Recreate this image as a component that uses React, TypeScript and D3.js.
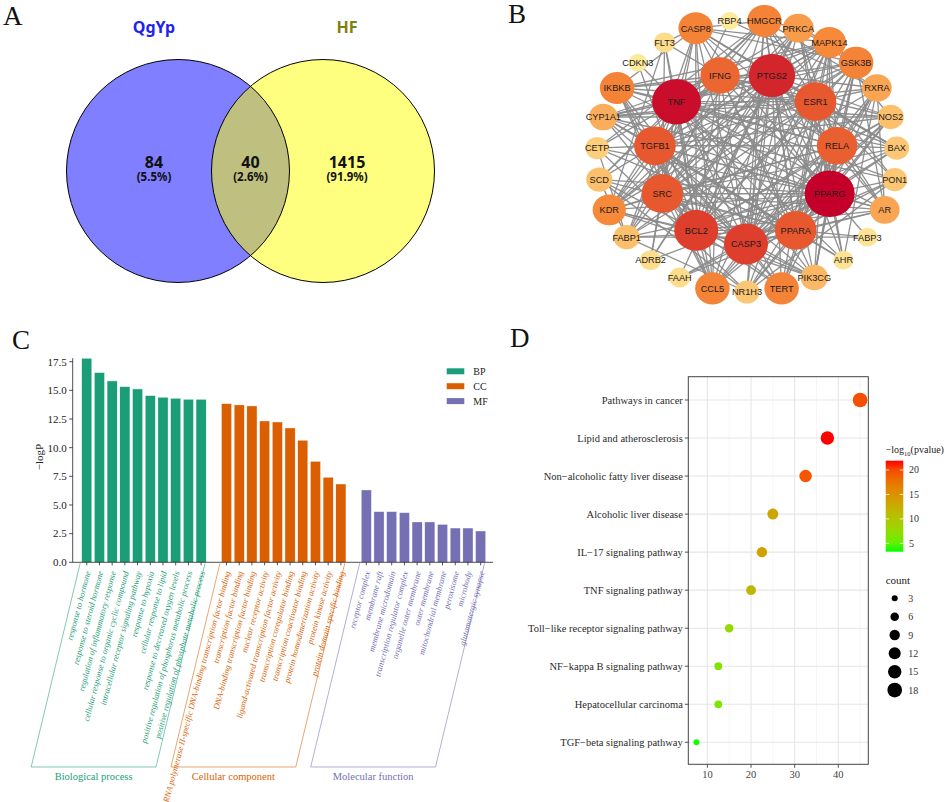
import React from "react";
import * as d3 from "d3";

const W = 948;
const H = 802;
const SERIF = "'Liberation Serif', 'Times New Roman', serif";
const SANS = "'Liberation Sans', Arial, sans-serif";
const NOTO = "'Noto Sans', 'DejaVu Sans', sans-serif";

// ---------- A: Venn
const vennSets = ["QgYp", "HF"];
const vennCounts = [84, 40, 1415];
const vennPercents = ["(5.5%)", "(2.6%)", "(91.9%)"];

// ---------- B: PPI network
const outerRing = [
  "HMGCR", "PRKCA", "MAPK14", "GSK3B", "RXRA", "NOS2", "BAX", "PON1", "AR",
  "FABP3", "AHR", "PIK3CG", "TERT", "NR1H3", "CCL5", "FAAH", "ADRB2", "FABP1",
  "KDR", "SCD", "CETP", "CYP1A1", "IKBKB", "CDKN3", "FLT3", "CASP8", "RBP4",
];
const outerDegree = [21, 18, 20, 21, 17, 14, 13, 13, 17, 9, 9, 15, 21, 13, 21, 10, 10, 14, 20, 14, 12, 16, 21, 8, 10, 21, 8];
const innerRing = ["CASP3", "PPARA", "PPARG", "RELA", "ESR1", "PTGS2", "IFNG", "TNF", "TGFB1", "SRC", "BCL2"];
const innerDegree = [29, 27, 34, 26, 27, 31, 25, 33, 27, 27, 29];
const edgeList = [
  "PPARG: TNF PTGS2 ESR1 RELA PPARA CASP3 BCL2 SRC TGFB1 IFNG CASP8 HMGCR PRKCA MAPK14 GSK3B RXRA NOS2 BAX PON1 AR FABP3 AHR PIK3CG TERT NR1H3 CCL5 FAAH FABP1 KDR SCD CETP CYP1A1 IKBKB ADRB2",
  "TNF: PTGS2 ESR1 RELA PPARA CASP3 BCL2 SRC TGFB1 IFNG CASP8 HMGCR PRKCA MAPK14 GSK3B NOS2 BAX PON1 AR AHR PIK3CG TERT CCL5 FABP1 KDR SCD CETP CYP1A1 IKBKB FLT3 CDKN3 ADRB2",
  "PTGS2: ESR1 RELA PPARA CASP3 BCL2 SRC TGFB1 IFNG CASP8 HMGCR PRKCA MAPK14 GSK3B RXRA NOS2 BAX AR AHR PIK3CG TERT NR1H3 CCL5 FAAH KDR CYP1A1 IKBKB ADRB2",
  "BCL2: ESR1 RELA PPARA CASP3 SRC TGFB1 IFNG CASP8 HMGCR PRKCA MAPK14 GSK3B NOS2 BAX AR PIK3CG TERT CCL5 KDR SCD CYP1A1 IKBKB FLT3 CDKN3",
  "CASP3: ESR1 RELA PPARA SRC TGFB1 IFNG CASP8 HMGCR PRKCA MAPK14 GSK3B RXRA NOS2 BAX PON1 AR PIK3CG TERT CCL5 KDR CYP1A1 IKBKB FAAH",
  "SRC: ESR1 RELA PPARA TGFB1 IFNG CASP8 PRKCA MAPK14 GSK3B BAX AR PIK3CG TERT CCL5 KDR IKBKB FLT3 ADRB2 FABP1",
  "TGFB1: ESR1 RELA PPARA IFNG CASP8 HMGCR MAPK14 GSK3B NOS2 AR PIK3CG TERT CCL5 KDR SCD CETP CYP1A1 IKBKB",
  "ESR1: RELA PPARA IFNG CASP8 HMGCR PRKCA MAPK14 GSK3B RXRA BAX PON1 AR AHR TERT NR1H3 CYP1A1 IKBKB FABP1",
  "PPARA: RELA IFNG HMGCR MAPK14 GSK3B RXRA NOS2 PON1 AR FABP3 AHR NR1H3 FAAH FABP1 SCD CETP CYP1A1",
  "RELA: IFNG CASP8 PRKCA MAPK14 GSK3B RXRA NOS2 BAX AR PIK3CG TERT CCL5 KDR IKBKB",
  "IFNG: CASP8 MAPK14 NOS2 BAX PIK3CG CCL5 KDR IKBKB CYP1A1 FLT3",
  "CASP8: HMGCR MAPK14 GSK3B BAX IKBKB CCL5 FLT3",
  "HMGCR: PRKCA RXRA PON1 NR1H3 CETP SCD FABP1",
  "MAPK14: PRKCA GSK3B IKBKB PIK3CG CCL5 KDR NOS2",
  "GSK3B: PRKCA PIK3CG TERT KDR AR",
  "NR1H3: RXRA CETP SCD PON1 FABP1",
  "KDR: PIK3CG FLT3 PRKCA",
  "RXRA: AR CYP1A1 AHR FABP1 RBP4",
  "CYP1A1: AHR PON1 NOS2",
  "FABP1: SCD CETP FABP3 RBP4",
  "CCL5: IKBKB NOS2",
  "ADRB2: PRKCA",
];

// ---------- C: GO enrichment
const bpTerms = [
  "response to hormone", "response to steroid hormone", "regulation of inflammatory response",
  "cellular response to organic cyclic compound", "intracellular receptor signaling pathway",
  "response to hypoxia", "cellular response to lipid", "response to decreased oxygen levels",
  "positive regulation of phosphorus metabolic process", "positive regulation of phosphate metabolic process",
];
const bpValues = [17.8, 16.55, 15.82, 15.32, 15.12, 14.54, 14.4, 14.31, 14.22, 14.22];
const ccTerms = [
  "RNA polymerase II-specific DNA-binding transcription factor binding", "transcription factor binding",
  "DNA-binding transcription factor binding", "nuclear receptor activity",
  "ligand-activated transcription factor activity", "transcription coregulator binding",
  "transcription coactivator binding", "protein homodimerization activity",
  "protein kinase activity", "protein domain specific binding",
];
const ccValues = [13.84, 13.73, 13.64, 12.33, 12.24, 11.72, 10.65, 8.81, 7.42, 6.83];
const mfTerms = [
  "receptor complex", "membrane raft", "membrane microdomain", "transcription regulator complex",
  "organelle outer membrane", "outer membrane", "mitochondrial membrane", "peroxisome",
  "microbody", "glutamatergic synapse",
];
const mfValues = [6.31, 4.42, 4.42, 4.33, 3.52, 3.52, 3.31, 2.99, 2.99, 2.73];
const goGroups = ["BP", "CC", "MF"];
const goGroupNames = ["Biological process", "Cellular component", "Molecular function"];
const goColors = ["#1b9e77", "#d95f02", "#7570b3"];
const goTicks = [0, 2.5, 5, 7.5, 10, 12.5, 15, 17.5];

// ---------- D: KEGG dot plot
const pathways = [
  "Pathways in cancer", "Lipid and atherosclerosis", "Non\u2212alcoholic fatty liver disease",
  "Alcoholic liver disease", "IL\u221217 signaling pathway", "TNF signaling pathway",
  "Toll\u2212like receptor signaling pathway", "NF\u2212kappa B signaling pathway",
  "Hepatocellular carcinoma", "TGF\u2212beta signaling pathway",
];
const pathwayRatio = [45, 37.5, 32.5, 25, 22.5, 20, 15, 12.5, 12.5, 7.5];
const pathwayCount = [18, 15, 13, 10, 9, 8, 6, 5, 5, 3];
const pathwayLogP = [19.8, 21.9, 19.5, 13.2, 13.6, 11.5, 7.8, 6.5, 6.2, 3.4];
const xTicksD = [10, 20, 30, 40];
const colorTicksD = [5, 10, 15, 20];
const sizeTicksD = [3, 6, 9, 12, 15, 18];

const PanelLetter = ({ x, y, t }: { x: number; y: number; t: string }) => (
  <text x={x} y={y} fontFamily={SERIF} fontSize={27} fill="#111">{t}</text>
);

export default function App() {
  // ---- A layout
  const vr = 111.5, vcy = 171, vcxL = 178, vcxR = 323;
  const vLabelX = [vcxL - 24, (vcxL + vcxR) / 2, vcxR + 24];

  // ---- B layout
  const ocx = 747, ocy = 156, orx = 150, ory = 136;
  const icx = 746, icy = 158, irx = 92, iry = 86;
  const nodes = new Map<string, { x: number; y: number; deg: number }>();
  outerRing.forEach((n, k) => {
    const a = ((180 / 27 + (k * 360) / 27) * Math.PI) / 180;
    nodes.set(n, { x: ocx + orx * Math.sin(a), y: ocy - ory * Math.cos(a), deg: outerDegree[k] });
  });
  innerRing.forEach((n, k) => {
    const a = ((180 - (k * 360) / 11) * Math.PI) / 180;
    nodes.set(n, { x: icx + irx * Math.sin(a), y: icy - iry * Math.cos(a), deg: innerDegree[k] });
  });
  const rNode = d3.scaleLinear().domain([8, 34]).range([9.5, 25]);
  const cNode = d3
    .scaleLinear<string>()
    .domain([8, 14, 20, 27, 34])
    .range(["#feea9c", "#fcc06c", "#f68a3a", "#e8582e", "#c4002a"]);
  const seen = new Set<string>();
  const edges: [string, string][] = [];
  edgeList.forEach((line) => {
    const [s, rest] = line.split(":");
    rest.trim().split(/\s+/).forEach((t) => {
      const key = [s, t].sort().join("|");
      if (!seen.has(key) && nodes.has(s) && nodes.has(t)) {
        seen.add(key);
        edges.push([s, t]);
      }
    });
  });
  const nodeOrder = [...outerRing, ...innerRing];

  // ---- C layout
  const goValues = [bpValues, ccValues, mfValues];
  const goTerms = [bpTerms, ccTerms, mfTerms];
  const xC = d3.scaleBand<number>().domain(d3.range(32)).range([80.4, 487]).paddingInner(0.2).paddingOuter(0.1);
  const yC = d3.scaleLinear().domain([0, 17.5]).range([562.3, 361.7]);
  const axisLeftC = 72.7;
  const baseC = yC(0);
  const slant = 49;
  const bracketBottom = 767;

  // ---- D layout
  const xD = d3.scaleLinear().domain([5.625, 46.875]).range([688.3, 868.3]);
  const yD = d3.scalePoint<string>().domain(pathways).range([400, 742.3]);
  const colD = d3.scaleLinear<string>().domain([3.3, 21.9]).range(["#00ff00", "#ff0000"]).interpolate(d3.interpolateLab);
  const sizeD = d3.scaleSqrt().domain([0, 18]).range([0, 7.35]);
  const panelD = { x0: 688.3, x1: 868.3, y0: 376.7, y1: 764.3 };
  const cbar = { x: 885.7, y0: 460.7, y1: 551.7, w: 17.6 };
  const cbarY = d3.scaleLinear().domain([3.3, 21.9]).range([cbar.y1, cbar.y0]);
  const majorD = xTicksD;
  const minorD = [15, 25, 35, 45];

  return (
    <svg width={W} height={H} style={{ position: "absolute", left: 0, top: 0, background: "#fff" }}>
      <defs>
        <linearGradient id="cbar" x1="0" y1="1" x2="0" y2="0">
          {d3.range(0, 1.0001, 0.1).map((t) => (
            <stop key={t} offset={t} stopColor={colD(3.3 + t * (21.9 - 3.3))} />
          ))}
        </linearGradient>
      </defs>

      {/* ================= A ================= */}
      <PanelLetter x={3} y={25} t="A" />
      <circle cx={vcxL} cy={vcy} r={vr} fill="#0000ff" fillOpacity={0.5} />
      <circle cx={vcxR} cy={vcy} r={vr} fill="#ffff00" fillOpacity={0.5} />
      <circle cx={vcxL} cy={vcy} r={vr} fill="none" stroke="#000" strokeWidth={1} />
      <circle cx={vcxR} cy={vcy} r={vr} fill="none" stroke="#000" strokeWidth={1} />
      <text x={vLabelX[0]} y={33} textAnchor="middle" fontFamily={NOTO} fontWeight="bold" fontSize={16} fill="#2222ee">{vennSets[0]}</text>
      <text x={vLabelX[2]} y={33} textAnchor="middle" fontFamily={NOTO} fontWeight="bold" fontSize={16} fill="#7f7f10">{vennSets[1]}</text>
      {vennCounts.map((c, i) => (
        <text key={i} fontFamily={NOTO} fontWeight="bold" fill="#111" textAnchor="middle">
          <tspan x={vLabelX[i]} y={168} fontSize={16}>{c}</tspan>
          <tspan x={vLabelX[i]} y={181} fontSize={11.5}>{vennPercents[i]}</tspan>
        </text>
      ))}

      {/* ================= B ================= */}
      <PanelLetter x={508} y={23} t="B" />
      <g stroke="#8a8a8a" strokeWidth={1.3} strokeOpacity={0.95}>
        {edges.map(([s, t], i) => {
          const a = nodes.get(s)!;
          const b = nodes.get(t)!;
          return <line key={i} x1={a.x} y1={a.y} x2={b.x} y2={b.y} />;
        })}
      </g>
      {nodeOrder.map((n) => {
        const p = nodes.get(n)!;
        const r = rNode(p.deg);
        return (
          <g key={n}>
            <ellipse cx={p.x} cy={p.y} rx={r} ry={r * 0.93} fill={cNode(p.deg)} />
            <text x={p.x} y={p.y} dy="0.36em" textAnchor="middle" fontFamily={SANS} fontSize={9.2} fill="#1a1a1a">{n}</text>
          </g>
        );
      })}

      {/* ================= C ================= */}
      <PanelLetter x={12} y={349} t="C" />
      <g fontFamily={SERIF} fontSize={11} fill="#222">
        {goTicks.map((t) => (
          <g key={t}>
            <line x1={axisLeftC - 3.5} x2={axisLeftC} y1={yC(t)} y2={yC(t)} stroke="#222" strokeWidth={0.8} />
            <text x={axisLeftC - 6} y={yC(t)} dy="0.35em" textAnchor="end">{t.toFixed(1)}</text>
          </g>
        ))}
      </g>
      <line x1={axisLeftC} x2={axisLeftC} y1={yC(17.8)} y2={baseC} stroke="#222" strokeWidth={0.8} />
      <text transform={`translate(43,457) rotate(-90)`} textAnchor="middle" fontFamily={SERIF} fontSize={11} fill="#222">{"\u2212logP"}</text>
      {goValues.map((vals, g) =>
        vals.map((v, i) => {
          const slot = g * 11 + i;
          return (
            <rect key={`${g}-${i}`} x={xC(slot)} y={yC(v)} width={xC.bandwidth()} height={baseC - yC(v)} fill={goColors[g]} stroke="#fff" strokeWidth={0.4} />
          );
        })
      )}
      <line x1={axisLeftC} x2={493} y1={baseC} y2={baseC} stroke="#222" strokeWidth={0.8} />
      {goValues.map((vals, g) =>
        vals.map((_, i) => {
          const cx = xC(g * 11 + i)! + xC.bandwidth() / 2;
          return <line key={`t${g}-${i}`} x1={cx} x2={cx} y1={baseC} y2={baseC + 3} stroke="#222" strokeWidth={0.8} />;
        })
      )}
      {goTerms.map((terms, g) =>
        terms.map((t, i) => {
          const cx = xC(g * 11 + i)! + xC.bandwidth() / 2;
          return (
            <text key={`l${g}-${i}`} transform={`translate(${cx + 1},${baseC + 9}) rotate(-75)`} dy="0.35em" textAnchor="end" fontFamily={SERIF} fontStyle="italic" fontSize={8.5} fill={goColors[g]}>{t}</text>
          );
        })
      )}
      {goGroups.map((grp, g) => {
        const left = xC(g * 11)! - 1.5;
        const right = xC(g * 11 + 9)! + xC.bandwidth() - 1.2;
        const top = baseC + 1;
        return (
          <g key={grp}>
            <path d={`M${left},${top}L${left - slant},${bracketBottom}L${right - slant},${bracketBottom}L${right},${top}`} fill="none" stroke={goColors[g]} strokeOpacity={0.7} strokeWidth={0.8} />
            <text x={(left + right) / 2 - slant} y={780} textAnchor="middle" fontFamily={SERIF} fontSize={10.5} fill={goColors[g]}>{goGroupNames[g]}</text>
          </g>
        );
      })}
      {goGroups.map((grp, g) => (
        <g key={`lg${grp}`}>
          <rect x={446.7} y={371.3 + g * 14.9 - 3} width={17.6} height={6} fill={goColors[g]} />
          <text x={473.3} y={371.3 + g * 14.9} dy="0.35em" fontFamily={SERIF} fontSize={10} fill="#222">{grp}</text>
        </g>
      ))}

      {/* ================= D ================= */}
      <PanelLetter x={510} y={347} t="D" />
      <rect x={panelD.x0} y={panelD.y0} width={panelD.x1 - panelD.x0} height={panelD.y1 - panelD.y0} fill="#fff" />
      {minorD.map((t) => (
        <line key={`mi${t}`} x1={xD(t)} x2={xD(t)} y1={panelD.y0} y2={panelD.y1} stroke="#f0f0f0" strokeWidth={0.7} />
      ))}
      {majorD.map((t) => (
        <line key={`ma${t}`} x1={xD(t)} x2={xD(t)} y1={panelD.y0} y2={panelD.y1} stroke="#e6e6e6" strokeWidth={1.1} />
      ))}
      {pathways.map((p) => (
        <line key={`h${p}`} x1={panelD.x0} x2={panelD.x1} y1={yD(p)} y2={yD(p)} stroke="#e6e6e6" strokeWidth={1.1} />
      ))}
      {pathways.map((p, i) => (
        <circle key={`pt${p}`} cx={xD(pathwayRatio[i])} cy={yD(p)} r={sizeD(pathwayCount[i])} fill={colD(pathwayLogP[i])} />
      ))}
      <rect x={panelD.x0} y={panelD.y0} width={panelD.x1 - panelD.x0} height={panelD.y1 - panelD.y0} fill="none" stroke="#444" strokeWidth={1} />
      <g fontFamily={SERIF} fontSize={10.5} fill="#2a2a2a">
        {pathways.map((p) => (
          <g key={`yl${p}`}>
            <line x1={panelD.x0 - 3.5} x2={panelD.x0} y1={yD(p)} y2={yD(p)} stroke="#444" strokeWidth={0.9} />
            <text x={panelD.x0 - 5.5} y={yD(p)} dy="0.35em" textAnchor="end">{p}</text>
          </g>
        ))}
        {xTicksD.map((t) => (
          <g key={`xt${t}`}>
            <line x1={xD(t)} x2={xD(t)} y1={panelD.y1} y2={panelD.y1 + 3.5} stroke="#444" strokeWidth={0.9} />
            <text x={xD(t)} y={panelD.y1 + 6} dy="0.71em" textAnchor="middle" fill="#444">{t}</text>
          </g>
        ))}
      </g>
      {/* colour legend */}
      <text x={cbar.x} y={453} fontFamily={SERIF} fontSize={10} fill="#222">
        {"\u2212log"}
        <tspan fontSize={6.5} dy={2.5}>10</tspan>
        <tspan dy={-2.5}>(pvalue)</tspan>
      </text>
      <rect x={cbar.x} y={cbar.y0} width={cbar.w} height={cbar.y1 - cbar.y0} fill="url(#cbar)" />
      {colorTicksD.map((t) => (
        <g key={`ct${t}`}>
          <line x1={cbar.x} x2={cbar.x + 3.5} y1={cbarY(t)} y2={cbarY(t)} stroke="#fff" strokeWidth={0.8} />
          <line x1={cbar.x + cbar.w - 3.5} x2={cbar.x + cbar.w} y1={cbarY(t)} y2={cbarY(t)} stroke="#fff" strokeWidth={0.8} />
          <text x={909} y={cbarY(t)} dy="0.35em" fontFamily={SERIF} fontSize={10} fill="#333">{t}</text>
        </g>
      ))}
      {/* size legend */}
      <text x={cbar.x} y={584} fontFamily={SERIF} fontSize={11} fill="#222">count</text>
      {sizeTicksD.map((s, i) => (
        <g key={`sz${s}`}>
          <circle cx={894.7} cy={598.3 + i * 18.35} r={sizeD(s)} fill="#000" />
          <text x={908.3} y={598.3 + i * 18.35} dy="0.35em" fontFamily={SERIF} fontSize={10} fill="#333">{s}</text>
        </g>
      ))}
    </svg>
  );
}
